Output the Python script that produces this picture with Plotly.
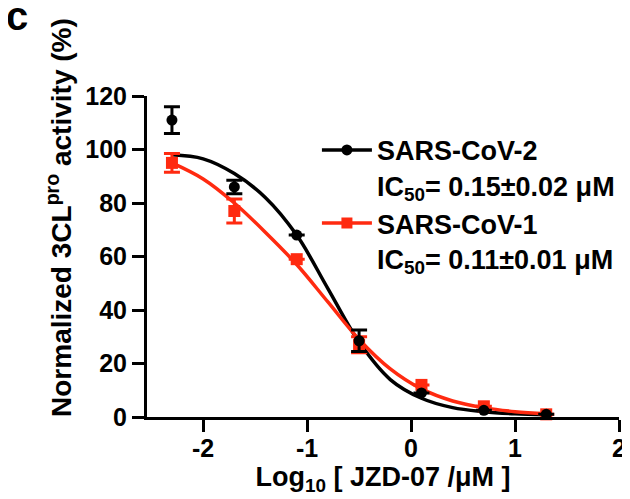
import plotly.graph_objects as go

# log10 of the JZD-07 concentration (uM)
log_conc = [-2.3, -1.7, -1.1, -0.5, 0.1, 0.7, 1.3]

# measured activity (%) with error bars
cov2_mean = [111, 86, 68, 28.5, 9, 2.5, 1]
cov2_err = [5, 2.5, 0, 4, 0, 0, 0]
cov1_mean = [95, 77, 59, 27, 12, 4, 1]
cov1_err = [3.5, 4.5, 0, 3, 0, 0, 0]

# fitted dose-response curves
fit_x = [-2.3, -2.0, -1.7, -1.4, -1.1, -0.8, -0.5, -0.2, 0.1, 0.4, 0.7, 1.0, 1.3]
cov2_fit = [98, 96.5, 91, 82, 68, 48, 28, 14, 7, 3.5, 2, 1.2, 0.8]
cov1_fit = [95, 89, 80, 69, 57, 43, 29, 18, 10.5, 6, 3.5, 2, 1.2]

x_ticks = [-2, -1, 0, 1, 2]
x_ticklabels = ["-2", "-1", "0", "1", "2"]
y_ticks = [0, 20, 40, 60, 80, 100, 120]

RED = "#FF2A10"
FAMILY = "Liberation Sans, Arial, sans-serif"
TICK_FONT = dict(family=FAMILY, size=25, color="black", weight=700)
TEXT_FONT = dict(family=FAMILY, size=27, color="black", weight=700)

fig = go.Figure()

# fit lines
fig.add_trace(go.Scatter(
    x=fit_x, y=cov2_fit, mode="lines", line=dict(color="black", width=3.5, shape="spline"),
    showlegend=False, hoverinfo="skip"))
fig.add_trace(go.Scatter(
    x=fit_x, y=cov1_fit, mode="lines", line=dict(color=RED, width=3.5, shape="spline"),
    showlegend=False, hoverinfo="skip"))

# data points
fig.add_trace(go.Scatter(
    x=log_conc, y=cov1_mean, mode="markers", cliponaxis=False,
    marker=dict(symbol="square", size=12, color=RED),
    error_y=dict(type="data", array=cov1_err, color=RED, thickness=3, width=8),
    showlegend=False))
fig.add_trace(go.Scatter(
    x=log_conc, y=cov2_mean, mode="markers", cliponaxis=False,
    marker=dict(symbol="circle", size=11, color="black"),
    error_y=dict(type="data", array=cov2_err, color="black", thickness=3, width=8),
    showlegend=False))

# legend entries
fig.add_trace(go.Scatter(
    x=[None], y=[None], mode="lines+markers",
    line=dict(color="black", width=3.5), marker=dict(symbol="circle", size=11, color="black"),
    name="SARS-CoV-2<br>IC<sub>50</sub>= 0.15±0.02 μM"))
fig.add_trace(go.Scatter(
    x=[None], y=[None], mode="lines+markers",
    line=dict(color=RED, width=3.5), marker=dict(symbol="square", size=11, color=RED),
    name="SARS-CoV-1<br>IC<sub>50</sub>= 0.11±0.01 μM"))

axis_common = dict(
    showline=True, linecolor="black", linewidth=3,
    ticks="outside", ticklen=12, tickwidth=3, tickcolor="black",
    showgrid=False, zeroline=False, tickfont=TICK_FONT,
)

fig.update_xaxes(
    range=[-2.54, 2], tickvals=x_ticks, ticktext=x_ticklabels, ticklabelstandoff=-5,
    title=dict(text="Log<sub>10</sub> [ JZD-07 /μM ]", font=TEXT_FONT, standoff=0),
    **axis_common)
fig.update_yaxes(range=[0, 120], tickvals=y_ticks, **axis_common)

# y axis title, placed a little above the plot centre as in the original
fig.add_annotation(
    text="Normalized 3CL<sup>pro</sup> activity (%)", textangle=-90,
    x=0, y=0.62, xref="paper", yref="paper", xanchor="center", yanchor="middle",
    xshift=-88, showarrow=False, font=dict(TEXT_FONT, size=28))

# panel label
fig.add_annotation(
    text="c", x=-0.2764, y=1.25, xref="paper", yref="paper", xanchor="center", yanchor="middle",
    showarrow=False, font=dict(family=FAMILY, size=40, color="black", weight=700))

fig.update_layout(
    width=630, height=499,
    margin=dict(l=139, r=17, t=88, b=90),
    plot_bgcolor="white", paper_bgcolor="white",
    showlegend=True,
    legend=dict(
        x=0.36, y=0.907, xanchor="left", yanchor="top",
        font=TEXT_FONT, valign="top", bgcolor="rgba(0,0,0,0)",
        tracegroupgap=0, itemwidth=50,
    ),
)

fig.write_html("out.html")
